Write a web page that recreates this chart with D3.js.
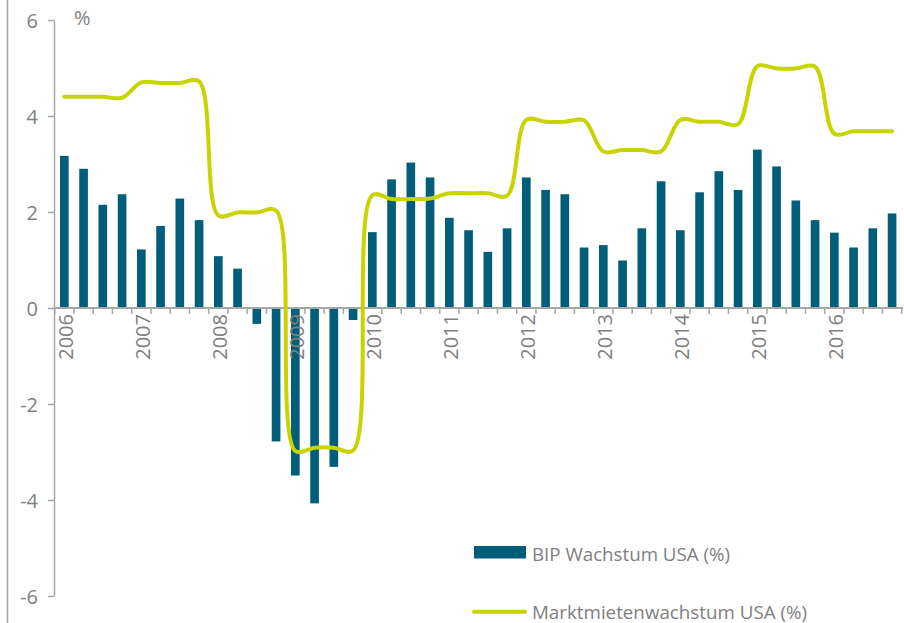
<!DOCTYPE html>
<html>
<head>
<meta charset="utf-8">
<script src="https://cdn.jsdelivr.net/npm/d3@7"></script>
<style>
  html, body { margin: 0; padding: 0; background: #ffffff; }
  svg { display: block; }
  text { font-family: "Open Sans", sans-serif; fill: #808080; }
</style>
</head>
<body>
<svg id="chart" width="904" height="623"></svg>
<script>
// ---- data ----
const years = ["2006","2007","2008","2009","2010","2011","2012","2013","2014","2015","2016"];
const quarterNames = ["Q1","Q2","Q3","Q4"];
const categories = years.flatMap(y => quarterNames.map(q => y + q));

const bipWachstum = [
  3.17, 2.90, 2.15, 2.37,
  1.22, 1.71, 2.28, 1.83,
  1.08, 0.82, -0.33, -2.78,
  -3.49, -4.07, -3.31, -0.25,
  1.58, 2.68, 3.03, 2.72,
  1.88, 1.62, 1.17, 1.66,
  2.72, 2.46, 2.37, 1.26,
  1.31, 0.99, 1.66, 2.64,
  1.62, 2.41, 2.85, 2.46,
  3.30, 2.95, 2.24, 1.83,
  1.57, 1.26, 1.66, 1.97
];

const marktmietenWachstum = [
  4.40, 4.40, 4.40, 4.38,
  4.70, 4.69, 4.69, 4.72,
  1.93, 1.99, 1.99, 2.03,
  -2.98, -2.91, -2.91, -2.97,
  2.35, 2.27, 2.27, 2.28,
  2.39, 2.39, 2.39, 2.34,
  3.92, 3.88, 3.88, 3.91,
  3.26, 3.29, 3.29, 3.26,
  3.92, 3.88, 3.88, 3.83,
  5.04, 4.99, 4.99, 5.03,
  3.63, 3.68, 3.68, 3.68
];

const yTicks = [-6, -4, -2, 0, 2, 4, 6];
const unitLabel = "%";
const seriesNames = ["BIP Wachstum USA (%)", "Marktmietenwachstum USA (%)"];

// ---- styles ----
const barColor = "#015e7a";
const lineColor = "#c8d400";
const axisColor = "#a6a6a6";
const textColor = "#808080";

const svg = d3.select("#chart");

const x = d3.scaleBand()
  .domain(categories)
  .range([54.7, 901.7])
  .paddingInner(0.55)
  .paddingOuter(0.275);

const y = d3.scaleLinear().domain([-6, 6]).range([596, 20]);

// left border line
svg.append("line")
  .attr("x1", 7.5).attr("x2", 7.5)
  .attr("y1", 0).attr("y2", 623)
  .attr("stroke", axisColor).attr("stroke-width", 1.5);

// bars
svg.append("g").selectAll("rect")
  .data(bipWachstum)
  .join("rect")
  .attr("x", (d, i) => x(categories[i]))
  .attr("width", x.bandwidth())
  .attr("y", d => Math.min(y(d), y(0)))
  .attr("height", d => Math.abs(y(d) - y(0)))
  .attr("fill", barColor);

// y axis
const yAxis = svg.append("g")
  .attr("transform", "translate(54,0)")
  .call(d3.axisLeft(y).tickValues(yTicks).tickSize(6).tickSizeOuter(0).tickPadding(10)
    .tickFormat(d => String(d)));
yAxis.select(".domain").attr("stroke", axisColor).attr("stroke-width", 1.5);
yAxis.selectAll(".tick line").attr("stroke", axisColor).attr("stroke-width", 1.5);
yAxis.selectAll(".tick text")
  .attr("fill", textColor)
  .style("font-family", "'Open Sans', sans-serif")
  .style("font-size", "20px")
  .attr("dy", "0.36em");

// x axis at zero
const xAxisG = svg.append("g").attr("transform", `translate(0,${y(0)})`);
xAxisG.append("line")
  .attr("x1", 54).attr("x2", 903)
  .attr("stroke", axisColor).attr("stroke-width", 2);
const boundaries = categories.map(c => x(c) - x.step() * x.paddingInner() / 2).concat([901.7]);
xAxisG.selectAll("line.tk")
  .data(boundaries)
  .join("line")
  .attr("class", "tk")
  .attr("x1", d => d).attr("x2", d => d)
  .attr("y1", 0).attr("y2", 6)
  .attr("stroke", axisColor).attr("stroke-width", 1.5);

// year labels (rotated)
svg.append("g").selectAll("text")
  .data(years)
  .join("text")
  .attr("transform", yr => {
    const c = yr + "Q1";
    const bx = x(c) + x.bandwidth() + x.step() * x.paddingInner() / 2;
    return `translate(${bx - 0.5},${y(0) + 6}) rotate(-90)`;
  })
  .attr("text-anchor", "end")
  .style("font-size", "20px")
  .attr("fill", textColor)
  .text(d => d);

// line
const line = d3.line()
  .x((d, i) => x(categories[i]) + x.bandwidth() / 2)
  .y(d => y(d))
  .curve(d3.curveCatmullRom.alpha(0.5));

svg.append("path")
  .datum(marktmietenWachstum)
  .attr("d", line)
  .attr("fill", "none")
  .attr("stroke", lineColor)
  .attr("stroke-width", 4)
  .attr("stroke-linejoin", "round")
  .attr("stroke-linecap", "round");

// unit label
svg.append("text")
  .attr("x", 74).attr("y", 25)
  .style("font-size", "20px")
  .attr("fill", textColor)
  .text(unitLabel);

// legend
const lg = svg.append("g");
lg.append("rect")
  .attr("x", 474).attr("y", 546).attr("width", 52).attr("height", 12.5)
  .attr("fill", barColor);
lg.append("text")
  .attr("x", 532).attr("y", 561)
  .style("font-size", "18px")
  .attr("textLength", 198).attr("lengthAdjust", "spacingAndGlyphs")
  .attr("fill", textColor)
  .text(seriesNames[0]);
lg.append("line")
  .attr("x1", 474).attr("x2", 525)
  .attr("y1", 611.7).attr("y2", 611.7)
  .attr("stroke", lineColor).attr("stroke-width", 4)
  .attr("stroke-linecap", "round");
lg.append("text")
  .attr("x", 532).attr("y", 619)
  .style("font-size", "18px")
  .attr("textLength", 275).attr("lengthAdjust", "spacingAndGlyphs")
  .attr("fill", textColor)
  .text(seriesNames[1]);
</script>
</body>
</html>
